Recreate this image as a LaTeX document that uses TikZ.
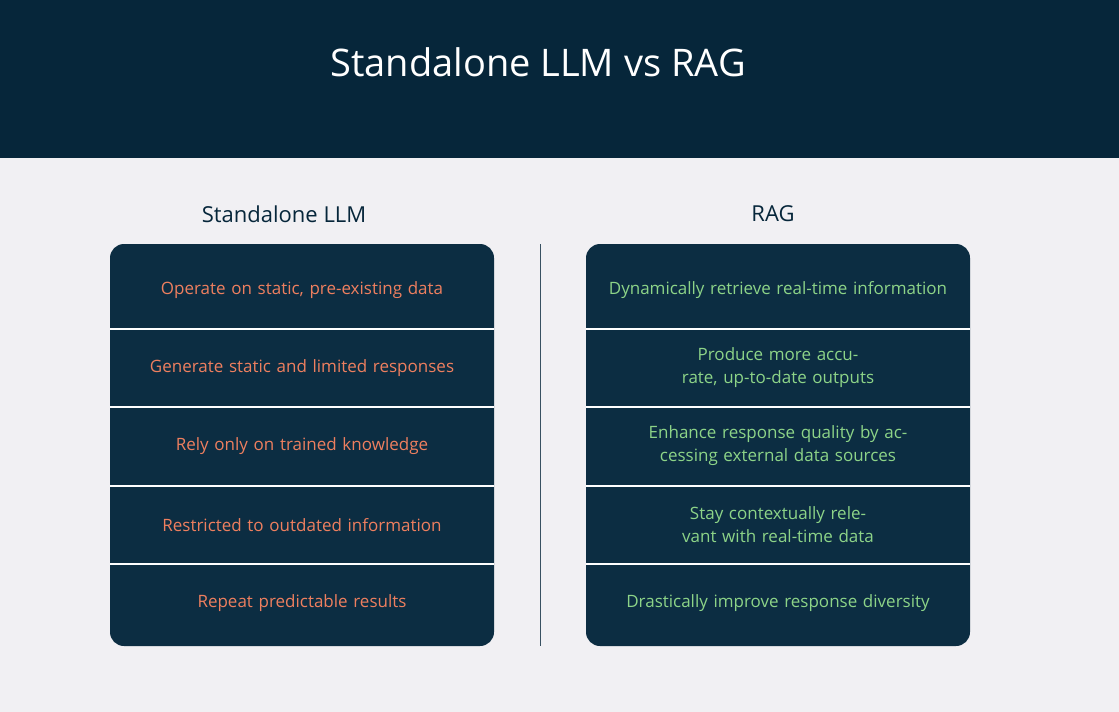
\documentclass[tikz,border=0pt]{standalone}
\usepackage{fontspec}
\setmainfont{Open Sans}
\usetikzlibrary{positioning}
\definecolor{navy}{HTML}{06263A}
\definecolor{paper}{HTML}{F1F0F3}
\definecolor{boxfill}{HTML}{0C2D42}
\definecolor{cons}{HTML}{EE7F5F}
\definecolor{pros}{HTML}{8DD488}
\tikzstyle{panel} = [rounded corners=14pt, fill=boxfill]
\tikzstyle{cell} = [minimum width=384pt, minimum height=78pt, text width=340pt, align=center, font=\fontsize{17}{23}\selectfont, inner sep=0pt]
\tikzstyle{heading} = [font=\fontsize{22}{26}\selectfont, text=navy]
\tikzstyle{sep} = [white, line width=1.2pt]

\begin{document}
\begin{tikzpicture}[x=1pt, y=-1pt]
            % Background
            \fill[paper] (0,0) rectangle (1119,712);
            \fill[navy] (0,0) rectangle (1119,158);
            \node [font=\fontsize{38}{44}\selectfont, text=white] (title) at (538,62) {Standalone LLM vs RAG};

            % Headings
            \node [heading] (llmhead) at (284,214) {Standalone LLM};
            \node [heading] (raghead) at (773,214) {RAG};

            % Panels
            \fill[panel] (110,244) rectangle (494,646);
            \fill[panel] (586,244) rectangle (970,646);
            \draw[navy!80, line width=1pt] (540,244) -- (540,646);

            % Left cells
            \node [cell, text=cons] (llm1) at (302,290) {Operate on static, pre-existing data};
            \node [cell, text=cons] (llm2) at (302,368) {Generate static and limited responses};
            \node [cell, text=cons] (llm3) at (302,446) {Rely only on trained knowledge};
            \node [cell, text=cons] (llm4) at (302,525) {Restricted to outdated information};
            \node [cell, text=cons] (llm5) at (302,603) {Repeat predictable results};

            % Right cells
            \node [cell, text=pros] (rag1) at (778,290) {Dynamically retrieve real-time information};
            \node [cell, text=pros] (rag2) at (778,368) {Produce more accurate, up-to-date outputs};
            \node [cell, text=pros] (rag3) at (778,446) {Enhance response quality by accessing external data sources};
            \node [cell, text=pros] (rag4) at (778,525) {Stay contextually relevant with real-time data};
            \node [cell, text=pros] (rag5) at (778,603) {Drastically improve response diversity};

            % Separators
            \foreach \y in {329,407,486,564} {
                \draw[sep] (110,\y) -- (494,\y);
                \draw[sep] (586,\y) -- (970,\y);
            }
        \end{tikzpicture}
\end{document}
